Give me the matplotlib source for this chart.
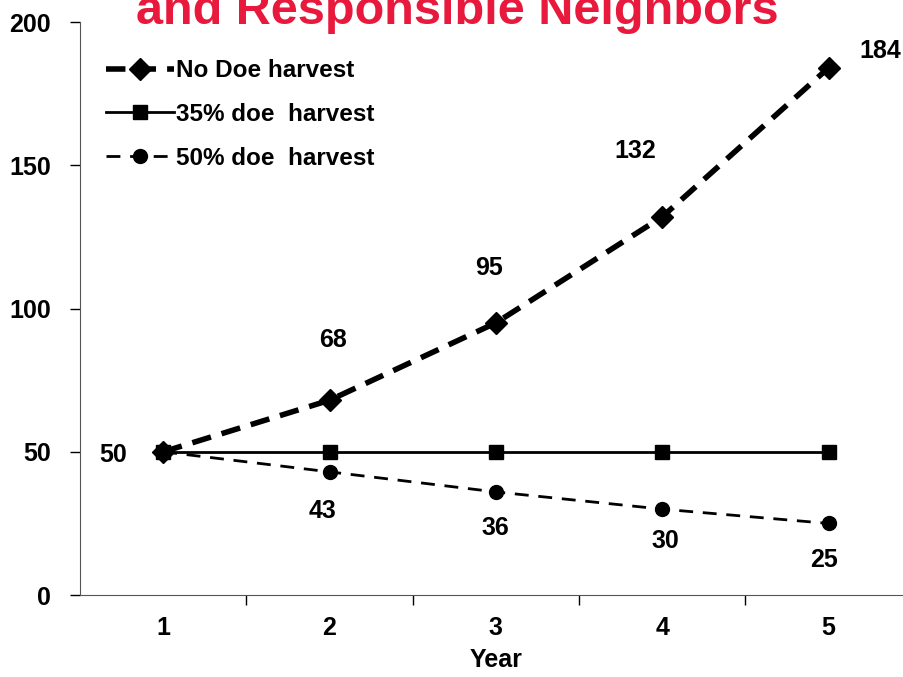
import matplotlib
matplotlib.use("Agg")
import matplotlib.pyplot as plt

years = [1, 2, 3, 4, 5]
no_doe = [50, 68, 95, 132, 184]
doe_35 = [50, 50, 50, 50, 50]
doe_50 = [50, 43, 36, 30, 25]

plt.rcParams['font.family'] = ['Liberation Sans', 'DejaVu Sans']
plt.rcParams['font.weight'] = 'bold'
plt.rcParams['axes.labelweight'] = 'bold'

fs = 18

fig = plt.figure(figsize=(9.04, 6.77), dpi=100)
ax = fig.add_axes([0.0885, 0.121, 0.92, 0.8465])

ax.plot(years, no_doe, color='black', lw=4, ls=(0, (3.5, 2)), marker='D', ms=11,
        label='No Doe harvest', zorder=3)
ax.plot(years, doe_35, color='black', lw=2, ls='-', marker='s', ms=10,
        label='35% doe  harvest', zorder=2)
ax.plot(years, doe_50, color='black', lw=2, ls=(0, (5, 3.5)), marker='o', ms=10,
        label='50% doe  harvest', zorder=2)

# data labels
ax.text(0.70, 49, '50', ha='center', va='center', fontsize=fs)
for x, y, t in [(2.02, 89, '68'), (2.96, 114, '95'), (3.84, 155, '132'), (5.31, 190, '184')]:
    ax.text(x, y, t, ha='center', va='center', fontsize=fs)
for x, y, t in [(1.96, 29.5, '43'), (3.0, 23.3, '36'), (4.02, 18.8, '30'), (4.97, 12.2, '25')]:
    ax.text(x, y, t, ha='center', va='center', fontsize=fs)

ax.set_xlim(0.5, 5.5)
ax.set_ylim(0, 200)
ax.set_yticks([0, 50, 100, 150, 200])
ax.set_xticks(years)
ax.set_xticks([1.5, 2.5, 3.5, 4.5, 5.5], minor=True)
ax.tick_params(axis='x', which='major', length=0, pad=15, labelsize=fs)
ax.tick_params(axis='x', which='minor', length=7, direction='out', width=1)
ax.tick_params(axis='y', length=7, direction='out', width=1, labelsize=fs, pad=14)
ax.spines['top'].set_visible(False)
ax.spines['right'].set_visible(False)
ax.spines['left'].set_color('#555555')
ax.spines['bottom'].set_color('#555555')
ax.set_xlabel('Year', fontsize=fs, labelpad=6)

ax.legend(loc='upper left', bbox_to_anchor=(0.019, 0.952), frameon=False, fontsize=17.5,
          handlelength=2.8, handletextpad=0.1, labelspacing=0.85, borderaxespad=0)

fig.text(0.506, 1 - 24 / 677, 'and Responsible Neighbors', color='#e8193c', fontsize=35,
         fontweight='bold', ha='center', va='baseline')

fig.savefig('out.png', dpi=100)
